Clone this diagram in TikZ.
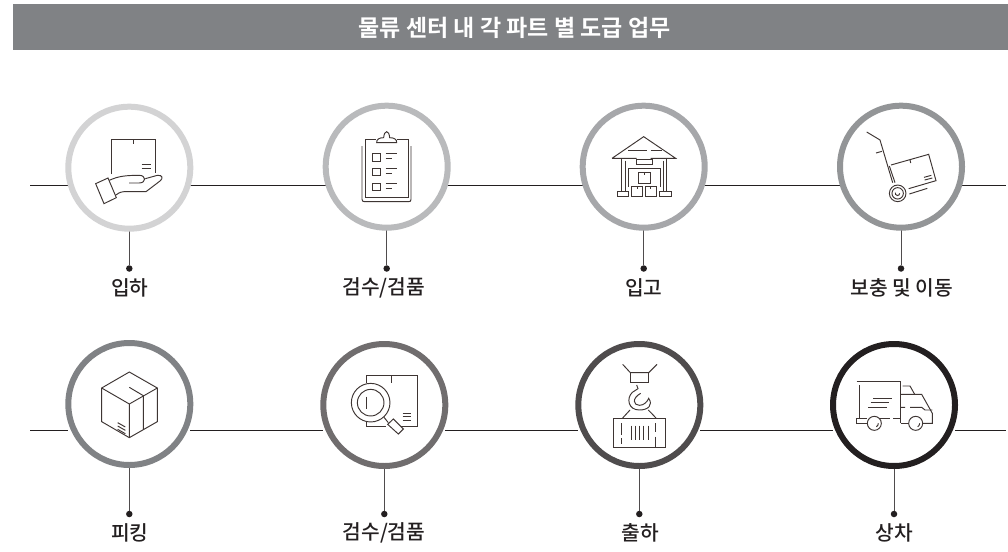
\documentclass[tikz,border=0pt]{standalone}
\usepackage{fontspec}
\usetikzlibrary{backgrounds}
\newfontfamily\krb{Noto Sans CJK KR Bold}
\newfontfamily\krl{Noto Sans CJK KR Medium}
\definecolor{ink}{HTML}{231F20}
\definecolor{icon}{HTML}{3E3533}
\definecolor{barc}{HTML}{808285}
\tikzset{
  ring/.style={circle,draw=#1,line width=6pt,fill=white,minimum size=122pt,inner sep=0pt,outer sep=0pt},
  wire/.style={draw=ink,line width=0.9pt},
  stem/.style={draw=ink!80,line width=0.9pt},
  dotnode/.style={circle,fill=ink,minimum size=6.5pt,inner sep=0pt,outer sep=0pt},
  lab/.style={font=\krl\fontsize{20.3}{22}\selectfont,text=ink,inner sep=0pt},
  ico/.style={draw=icon,line width=0.95pt,line join=miter},
  zoomA/.style={shift={(20,90)},x=0.33333pt,y=-0.33333pt},
  zoomB/.style={shift={(520,90)},x=0.33333pt,y=-0.33333pt},
  zoomC/.style={shift={(20,330)},x=0.33333pt,y=-0.33333pt},
  zoomD/.style={shift={(520,330)},x=0.33333pt,y=-0.33333pt},
}
\begin{document}
\begin{tikzpicture}[x=1pt,y=-1pt]
\useasboundingbox (0,0) rectangle (1008,551);
\node[anchor=north west,fill=barc,minimum width=995pt,minimum height=46pt,inner sep=0pt,outer sep=0pt] (bar) at (13,4) {};
\node[font=\krb\fontsize{23}{24}\selectfont,text=white,inner sep=0pt] (title) at (514.5,28) {물류 센터 내 각 파트 별 도급 업무};
% rings
\node[ring=barc!35] (c1) at (129.3,167.7) {};
\node[ring=barc!55] (c2) at (386.7,166.7) {};
\node[ring=barc!70] (c3) at (643.7,166.7) {};
\node[ring=barc!85] (c4) at (901,166.7) {};
\node[ring=barc] (c5) at (129.3,404) {};
\node[ring=ink!65] (c6) at (384.3,405) {};
\node[ring=ink!80] (c7) at (639.3,405) {};
\node[ring=ink] (c8) at (894,405) {};
% free ends
\coordinate (l1) at (30,185);
\coordinate (r1) at (1006,185);
\coordinate (l2) at (30,430);
\coordinate (r2) at (1006,430);
% dots
\node[dotnode] (d1) at (129.3,268.5) {};
\node[dotnode] (d2) at (386.7,268.5) {};
\node[dotnode] (d3) at (643.7,268.5) {};
\node[dotnode] (d4) at (901,268.5) {};
\node[dotnode] (d5) at (129.3,514) {};
\node[dotnode] (d6) at (384.3,514) {};
\node[dotnode] (d7) at (639.3,514) {};
\node[dotnode] (d8) at (894,514) {};
% wires behind the rings
\begin{pgfonlayer}{background}
\path[wire] (l1) -- (c1.west |- l1);
\path[wire] (c1.east |- l1) -- (c2.west |- l1);
\path[wire] (c2.east |- l1) -- (c3.west |- l1);
\path[wire] (c3.east |- l1) -- (c4.west |- l1);
\path[wire] (c4.east |- l1) -- (r1);
\path[wire] (l2) -- (c5.west |- l2);
\path[wire] (c5.east |- l2) -- (c6.west |- l2);
\path[wire] (c6.east |- l2) -- (c7.west |- l2);
\path[wire] (c7.east |- l2) -- (c8.west |- l2);
\path[wire] (c8.east |- l2) -- (r2);
\foreach \i in {1,...,8} \path[stem] (c\i.south) -- (d\i);
\end{pgfonlayer}
% labels
\node[lab] (t1) at (129.8,288) {입하};
\node[lab] (t2) at (383.7,288) {검수/검품};
\node[lab] (t3) at (643.8,288) {입고};
\node[lab] (t4) at (902,288) {보충 및 이동};
\node[lab] (t5) at (129.8,533) {피킹};
\node[lab] (t6) at (384,533) {검수/검품};
\node[lab] (t7) at (640,533) {출하};
\node[lab] (t8) at (894,533) {상차};
% icon 1: hand and box
\begin{scope}[zoomA,ico]
\draw (273,252)--(273,149)--(405,149)--(405,250);
\draw (339,149)--(339,163) (365,224)--(393,224) (365,234)--(393,234);
\draw (227,281)--(264,264)--(289,323)--(252,341)--cycle;
\draw (268,271) .. controls (295,258) and (320,256) .. (358,256) .. controls (378,256) and (380,278) .. (358,279) -- (327,279);
\draw (376,266) -- (412,256) .. controls (428,254) and (430,266) .. (420,273) -- (378,305) -- (312,305) .. controls (300,306) and (294,310) .. (286,316);
\end{scope}
% icon 2: clipboard
\begin{scope}[zoomA,ico]
\draw (1026,168)--(1026,328) .. controls (1026,333) and (1029,335) .. (1034,335)--(1166,335) .. controls (1171,335) and (1173,333) .. (1173,328)--(1173,168);
\draw (1068,148)--(1036,148)--(1036,323)--(1164,323)--(1164,148)--(1132,148);
\draw (1070,158) .. controls (1069,148) and (1078,143) .. (1091,143) .. controls (1092,132) and (1095,125) .. (1100,125) .. controls (1105,125) and (1108,132) .. (1109,143) .. controls (1122,143) and (1131,148) .. (1130,158) -- cycle;
\foreach \d in {0,44.5,89} {
  \draw (1057,191+\d) rectangle (1080,213+\d);
  \draw (1097,191+\d)--(1130,191+\d) (1097,205+\d)--(1115,205+\d);
}
\end{scope}
% icon 3: warehouse
\begin{scope}[zoomB,ico]
\draw (276,205)--(371,140)--(467,205)--(392,205) (276,205)--(350,205);
\draw (325,180)--(380,180) (392,180)--(425,180);
\draw (305,205)--(305,302) (315,212)--(315,302);
\draw (440,205)--(440,302) (430,212)--(430,302);
\draw (350,208) rectangle (396,222);
\draw (325,290)--(325,235)--(420,235)--(420,290);
\draw[fill=white] (355,248) rectangle (390,281);
\draw[fill=white] (335,290) rectangle (368,320);
\draw[fill=white] (376,290) rectangle (409,320);
\draw[fill=white] (291,304) rectangle (325,320) (419,304) rectangle (453,320);
\draw (372,248)--(372,256) (351,290)--(351,297) (392,290)--(392,297);
\end{scope}
% icon 4: hand truck
\begin{scope}[zoomB,ico]
\draw (1040,126)--(1080,150)--(1118,278);
\draw (1108,228)--(1125,278);
\draw (1068,189)--(1086,184);
\draw (1113,225)--(1226,193)--(1248,272)--(1166,296);
\draw (1168,312)--(1222,295);
\draw (1170,209)--(1172,219);
\draw (1212,262)--(1234,256) (1214,270)--(1237,264);
\draw (1133,310) circle[radius=8.3pt];
\draw (1133,310) circle[radius=5.7pt];
\draw (1139,310) arc[start angle=0,end angle=-200,radius=2.2pt];
\end{scope}
% icon 5: cube
\begin{scope}[zoomC,ico]
\draw (328,126)--(412,174)--(412,275)--(328,323)--(245,275)--(245,174)--cycle;
\draw (245,174)--(328,222)--(412,174) (328,222)--(328,323);
\draw (328,172)--(370,197)--(370,298);
\draw (293,278)--(316,291) (293,288)--(316,301) (293,298)--(316,311);
\end{scope}
% icon 6: magnifier over box
\begin{scope}[zoomC,ico]
\draw (1038,160)--(1038,137)--(1191,137)--(1191,290)--(1130,290);
\draw (1038,270)--(1038,290)--(1098,290);
\draw (1115,137)--(1115,158);
\draw (1148,250)--(1172,250) (1148,260)--(1172,260) (1148,270)--(1172,270);
\draw[fill=white] (1052,218) circle[radius=19.3pt];
\draw (1052,218) circle[radius=13.3pt];
\draw (1038,200)--(1038,236);
\draw (1092,262)--(1105,278);
\draw[fill=white] (1120,267)--(1150,297)--(1135,312)--(1103,283)--cycle;
\end{scope}
% icon 7: crane hook and container
\begin{scope}[zoomD,ico]
\draw (308,103)--(331,128)--(386,128)--(411,103);
\draw (331,128)--(331,157)--(386,157)--(386,128);
\draw (350,165)--(354,176)--(337,187) .. controls (318,205) and (325,240) .. (358,240) .. controls (385,240) and (400,225) .. (386,205) .. controls (382,215) and (372,226) .. (358,226) .. controls (340,226) and (335,205) .. (362,190);
\draw (281,264) rectangle (435,351);
\draw (308,264)--(330,240) (408,264)--(385,240);
\foreach \x in {333,345,358,371,385} \draw (\x,287)--(\x,330);
\draw (305,280)--(305,315) (305,325)--(305,342);
\draw (407,280)--(407,305) (407,320)--(407,351);
\end{scope}
% icon 8: truck
\begin{scope}[zoomD,ico]
\draw (1010,155)--(1142,155)--(1142,280);
\draw (1019,165)--(1019,264);
\draw (1010,264)--(1040,264) (1075,264)--(1110,264) (1120,264)--(1142,264) (1010,264)--(1010,280)--(1042,280);
\draw (1060,205)--(1115,205) (1052,218)--(1108,218) (1045,232)--(1100,232);
\draw (1142,193)--(1205,193)--(1237,250)--(1237,280)--(1208,280);
\draw (1142,280)--(1166,280);
\draw (1148,168)--(1170,168)--(1184,193);
\draw (1142,232)--(1155,232) (1170,232)--(1205,232)--(1215,240)--(1237,240);
\draw[fill=white] (1063,280) circle[radius=7pt];
\draw[fill=white] (1187,280) circle[radius=7pt];
\draw (1075,280) arc[start angle=0,end angle=-60,radius=4pt];
\draw (1199,280) arc[start angle=0,end angle=-60,radius=4pt];
\end{scope}
\end{tikzpicture}
\end{document}
